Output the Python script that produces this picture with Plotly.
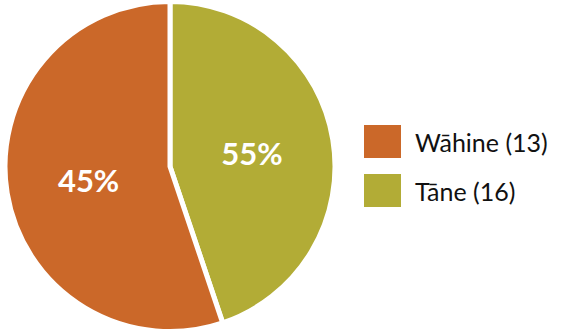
import plotly.graph_objects as go

# Data
labels = ["Wāhine", "Tāne"]
counts = [13, 16]
pct_labels = ["45%", "55%"]
slice_sizes = [16, 13]  # relative slice areas as drawn in the reference
colors = ["#CB6829", "#B2AC36"]

fig = go.Figure()
# Draw Tāne first so it runs clockwise from 12 o'clock on the right side
fig.add_trace(go.Pie(
    labels=labels[::-1],
    values=slice_sizes[::-1],
    text=pct_labels[::-1],
    textinfo="text",
    textposition="inside",
    insidetextorientation="horizontal",
    textfont=dict(family="Lato", size=31, color="white", weight="bold"),
    marker=dict(colors=colors[::-1], line=dict(color="white", width=5)),
    sort=False,
    direction="clockwise",
    rotation=0,
    domain=dict(x=[5/562, 335/562], y=[0, 1]),
    showlegend=False,
    hoverinfo="skip",
))

# Custom legend (large square swatches)
shapes = []
annotations = []
for i, (lab, cnt, col) in enumerate(zip(labels, counts, colors)):
    y_top = 125 + i * 49
    shapes.append(dict(type="rect", xref="paper", yref="paper",
                       x0=364/562, x1=401/562,
                       y0=1 - (y_top + 33)/333, y1=1 - y_top/333,
                       fillcolor=col, line=dict(width=0)))
    annotations.append(dict(xref="paper", yref="paper",
                            x=413/562, y=1 - (y_top + 17)/333,
                            xanchor="left", yanchor="middle",
                            text=f"{lab} ({cnt})", showarrow=False,
                            font=dict(family="Lato", size=25, color="#111111")))

fig.update_layout(
    width=562, height=333,
    margin=dict(l=0, r=0, t=0, b=0),
    paper_bgcolor="white", plot_bgcolor="white",
    shapes=shapes, annotations=annotations,
)

fig.write_html("out.html")
